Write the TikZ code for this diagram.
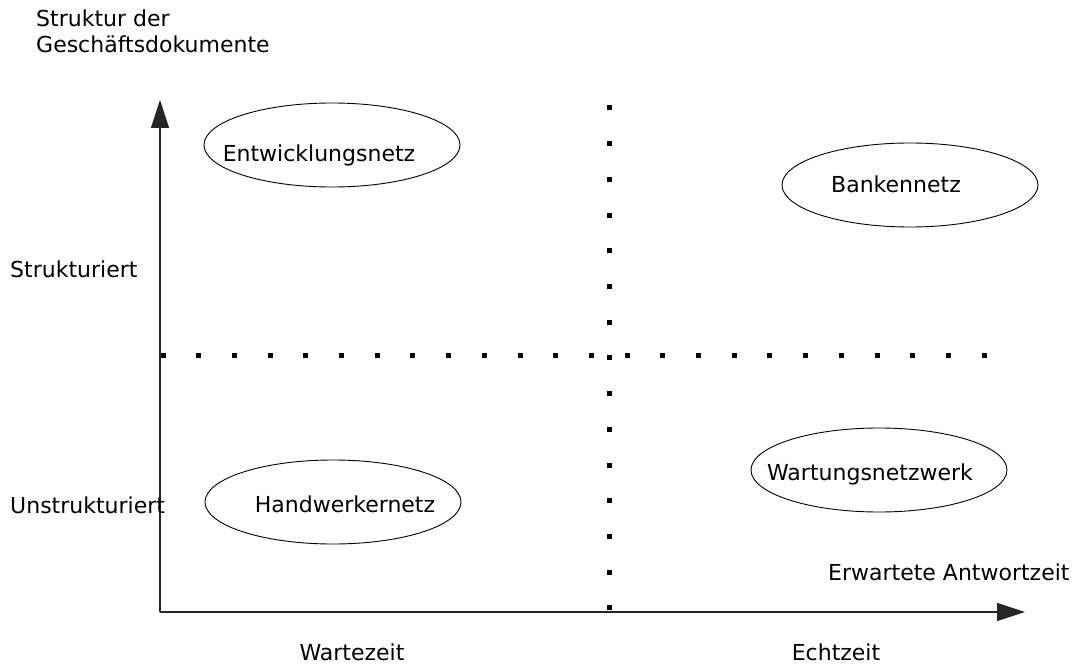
\documentclass[tikz,border=0pt]{standalone}
\usepackage{fontspec}
\setmainfont{DejaVu Sans}
\usetikzlibrary{arrows.meta,shapes.geometric}

\tikzset{
  axis/.style={line width=1.2pt, draw=black!85, -{Triangle[length=28pt,width=18pt]}},
  netz/.style={draw, ellipse, line width=0.9pt, minimum width=256pt, minimum height=84pt, inner sep=0pt},
  txt/.style={inner sep=0pt, font=\fontsize{22}{26}\selectfont}
}

\begin{document}
\begin{tikzpicture}[x=1pt,y=-1pt]
\def\gap{35.7}
\def\dot#1#2{
  \fill (#1-2.5,#2-2.5) rectangle +(5,5);
}

\useasboundingbox (0,0) rectangle (1082,666);

% Axes
\coordinate (origin) at (160,612);
\coordinate (ytip) at (160,100);
\coordinate (xtip) at (1025,612);
\draw[axis] (origin) -- (ytip);
\draw[axis] (origin) -- (xtip);

% Dotted separators
\foreach \i in {0,...,23} {\dot{163+\gap*\i}{355}}
\foreach \i in {0,...,14} {\dot{609}{108+\gap*\i}}

% Networks
\node[netz] (entw) at (332,145) {};
\node[netz] (bank) at (910,185) {};
\node[netz] (hand) at (333,502) {};
\node[netz] (wart) at (879,470) {};

\node[txt,anchor=base] (entwT) at (319,162) {Entwicklungsnetz};
\node[txt,anchor=base] (bankT) at (896,193) {Bankennetz};
\node[txt,anchor=base] (handT) at (345,512) {Handwerkernetz};
\node[txt,anchor=base] (wartT) at (870,480) {Wartungsnetzwerk};

% Axis labels
\node[txt,anchor=base west] (titel1) at (36,27) {Struktur der};
\node[txt,anchor=base west] (titel2) at (36,53) {Geschäftsdokumente};
\node[txt,anchor=base west] (strukt) at (10,277) {Strukturiert};
\node[txt,anchor=base west] (unstrukt) at (10,513) {Unstrukturiert};
\node[txt,anchor=base west] (antwort) at (828,580) {Erwartete Antwortzeit};
\node[txt,anchor=base] (warte) at (352,660) {Wartezeit};
\node[txt,anchor=base] (echt) at (836,660) {Echtzeit};

\end{tikzpicture}
\end{document}
